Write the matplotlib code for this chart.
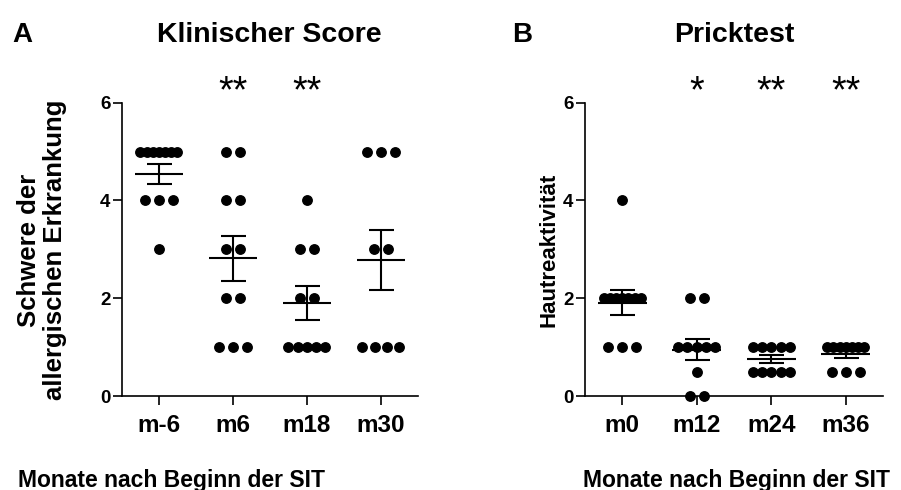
import matplotlib
matplotlib.use("Agg")
import matplotlib.pyplot as plt
import numpy as np

plt.rcParams['font.family'] = ['Liberation Sans', 'DejaVu Sans']
plt.rcParams['font.weight'] = 'bold'

# Klinischer Score
klin_groups = ["m-6", "m6", "m18", "m30"]
klin_m_6 = [5, 5, 5, 5, 5, 5, 5, 4, 4, 4, 3]
klin_m6 = [5, 5, 4, 4, 3, 3, 2, 2, 1, 1, 1]
klin_m18 = [4, 3, 3, 2, 2, 1, 1, 1, 1, 1]
klin_m30 = [5, 5, 5, 3, 3, 1, 1, 1, 1]
klin_sig = ["", "**", "**", ""]

# Pricktest
prick_groups = ["m0", "m12", "m24", "m36"]
prick_m0 = [4, 2, 2, 2, 2, 2, 2, 2, 1, 1, 1]
prick_m12 = [2, 2, 1, 1, 1, 1, 1, 0.5, 0, 0]
prick_m24 = [1, 1, 1, 1, 1, 0.5, 0.5, 0.5, 0.5, 0.5]
prick_m36 = [1, 1, 1, 1, 1, 1, 1, 0.5, 0.5, 0.5]
prick_sig = ["", "*", "**", "**"]

yticks = [0, 2, 4, 6]

LW = 1.5


def scatter_group(ax, i, vals):
    vals = np.asarray(vals, dtype=float)
    for v in np.unique(vals):
        n = int(np.sum(vals == v))
        step = min(0.185, 0.5 / (n - 1)) if n > 1 else 0
        offs = (np.arange(n) - (n - 1) / 2) * step
        ax.plot(i + offs, [v] * n, 'o', color='black', ms=6.8,
                mec='black', clip_on=False, zorder=3)
    m = vals.mean()
    sem = vals.std(ddof=1) / np.sqrt(len(vals))
    ax.hlines(m, i - 0.33, i + 0.33, color='black', lw=LW, zorder=4)
    ax.errorbar([i], [m], yerr=[sem], fmt='none', ecolor='black',
                elinewidth=LW, capsize=9, capthick=LW, zorder=4)


def panel(ax, groups, data, sig):
    for i, vals in enumerate(data):
        scatter_group(ax, i, vals)
        if sig[i]:
            ax.text(i, 6.0, sig[i], ha='center', va='baseline',
                    fontsize=27, fontweight='normal', clip_on=False)
    ax.set_xlim(-0.5, 3.5)
    ax.set_ylim(0, 6)
    ax.set_xticks(range(len(groups)))
    ax.set_xticklabels(groups, fontsize=17.5, fontweight='bold')
    ax.set_yticks(yticks)
    ax.set_yticklabels([str(t) for t in yticks], fontsize=13.5, fontweight='bold')
    for s in ['top', 'right']:
        ax.spines[s].set_visible(False)
    for s in ['left', 'bottom']:
        ax.spines[s].set_linewidth(1.2)
    ax.tick_params(axis='both', direction='out', length=6.3, width=1.2)
    ax.tick_params(axis='x', pad=6.5)
    ax.tick_params(axis='y', pad=2)


fig = plt.figure(figsize=(9.01, 4.9), dpi=100)
ax1 = fig.add_axes([0.1354, 0.1918, 0.3285, 0.5986])
ax2 = fig.add_axes([0.6493, 0.1918, 0.3307, 0.5986])

panel(ax1, klin_groups, [klin_m_6, klin_m6, klin_m18, klin_m30], klin_sig)
panel(ax2, prick_groups, [prick_m0, prick_m12, prick_m24, prick_m36], prick_sig)

fig.text(0.0133, 0.915, "A", fontsize=20, fontweight='bold', ha='left', va='baseline')
fig.text(0.568, 0.915, "B", fontsize=20, fontweight='bold', ha='left', va='baseline')
fig.text(0.2986, 0.915, "Klinischer Score", fontsize=20.5, fontweight='bold', ha='center', va='baseline')
fig.text(0.8146, 0.915, "Pricktest", fontsize=20.5, fontweight='bold', ha='center', va='baseline')

fig.text(0.19, 0.007, "Monate nach Beginn der SIT", fontsize=16.5, fontweight='bold', ha='center', va='baseline')
fig.text(0.817, 0.007, "Monate nach Beginn der SIT", fontsize=16.5, fontweight='bold', ha='center', va='baseline')

fig.text(0.047, 0.49, "Schwere der\nallergischen Erkrankung", fontsize=18.5, fontweight='bold',
         rotation=90, ha='center', va='center', linespacing=1.1)
fig.text(0.609, 0.49, "Hautreaktivität", fontsize=16, fontweight='bold',
         rotation=90, ha='center', va='center')

fig.savefig("out.png", dpi=100)
